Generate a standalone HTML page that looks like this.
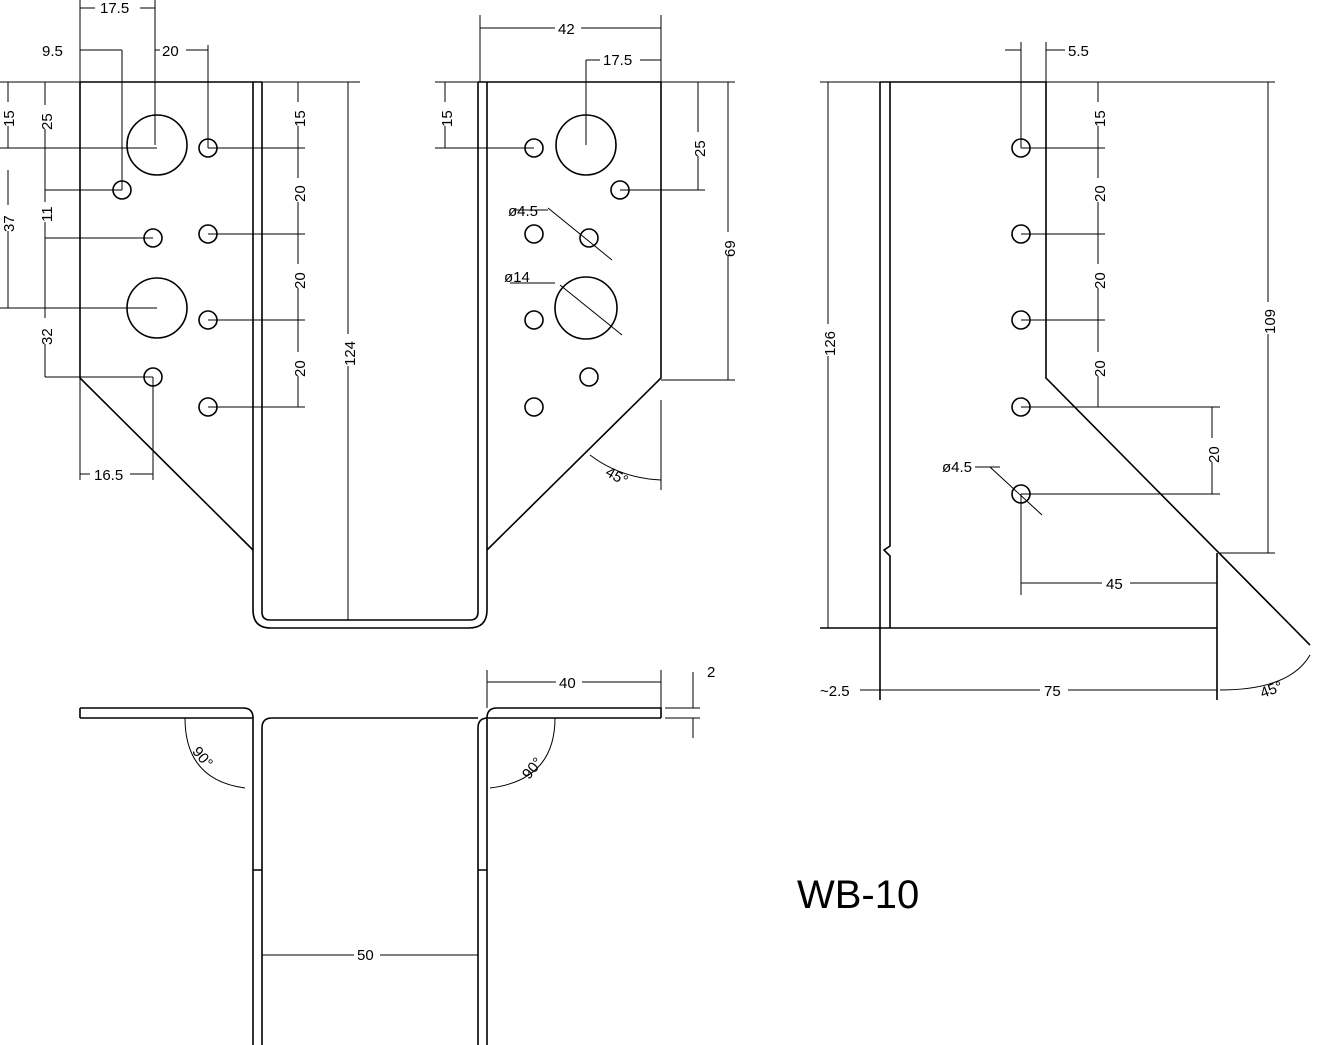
<!DOCTYPE html>
<html><head><meta charset="utf-8"><style>
html,body{margin:0;padding:0;background:#fff;}
svg{display:block}
text{font-family:"Liberation Sans",sans-serif;font-size:15px;fill:#000}
</style></head><body>
<svg width="1321" height="1045" viewBox="0 0 1321 1045" xmlns="http://www.w3.org/2000/svg">
<g fill="none" stroke="#000" stroke-width="1.6">
<!-- front view outline -->
<path d="M80,82 H262 M80,82 V378 L253,550 V610 Q253,628 271,628 H469 Q487,628 487,610 V550 L661,378 V82 H478 M487,82 V550"/>
<path d="M253,82 V550 M262,82 V612 Q262,620 270,620 H470 Q478,620 478,612 V82"/>
<!-- holes left -->
<circle cx="157" cy="145" r="30"/><circle cx="157" cy="308" r="30"/>
<circle cx="208" cy="148" r="9"/><circle cx="122" cy="190" r="9"/><circle cx="153" cy="238" r="9"/>
<circle cx="208" cy="234" r="9"/><circle cx="208" cy="320" r="9"/><circle cx="153" cy="377" r="9"/><circle cx="208" cy="407" r="9"/>
<!-- holes right -->
<circle cx="586" cy="145" r="30"/><circle cx="586" cy="308" r="31"/>
<circle cx="534" cy="148" r="9"/><circle cx="620" cy="190" r="9"/><circle cx="534" cy="234" r="9"/>
<circle cx="589" cy="238" r="9"/><circle cx="534" cy="320" r="9"/><circle cx="589" cy="377" r="9"/><circle cx="534" cy="407" r="9"/>
<!-- side view -->
<path d="M880,82 V700 M890,82 V546 L884,550 L890,556 V628 M880,82 H1046 V378 L1310,645 M820,628 H1217 M1217,553 V700"/>
<circle cx="1021" cy="148" r="9"/><circle cx="1021" cy="234" r="9"/><circle cx="1021" cy="320" r="9"/><circle cx="1021" cy="407" r="9"/><circle cx="1021" cy="494" r="9"/>
<!-- bottom view -->
<path d="M80,708 H243 Q253,708 253,718 V1045 M80,718 H253 M262,1045 V728 Q262,718 272,718 H478 M478,1045 V728 Q478,718 488,718 H661 M487,1045 V718 Q487,708 497,708 H661 V718 M80,708 V718"/>
<path d="M253,870 H262 M478,870 H487"/>
</g>
<g fill="none" stroke="#000" stroke-width="1">
<!-- left front dims -->
<path d="M80,0 V82 M155,0 V145 M80,8 H155 M80,50 H122 M122,50 V190 M155,50 H208 M208,45 V148"/>
<path d="M0,82 H80 M0,148 H157 M8,82 V148 M8,170 V308 M0,308 H157 M45,82 V190 M45,190 H122 M45,238 H153 M45,238 V377 M45,377 H153 M45,190 V238"/>
<path d="M80,378 V480 M153,377 V480 M80,474 H153"/>
<path d="M208,148 H305 M208,234 H305 M208,320 H305 M208,407 H305 M298,82 V407 M262,82 H360 M348,82 V620"/>
<!-- right front dims -->
<path d="M480,15 V82 M661,15 V82 M480,28 H661 M586,60 H661 M586,60 V145"/>
<path d="M435,82 H478 M435,148 H534 M445,82 V148 M661,82 H735 M620,190 H705 M698,82 V190 M661,380 H735 M728,82 V380"/>
<path d="M548,208 L612,260 M560,285 L622,335 M515,210 H548 M510,283 H555"/>
<path d="M661,400 V490 M590,455 Q620,478 661,480"/>
<!-- side dims -->
<path d="M1021,42 V148 M1046,42 V82 M1005,50 H1021 M1046,50 H1065"/>
<path d="M1021,148 H1105 M1021,234 H1105 M1021,320 H1105 M1021,407 H1220 M1098,82 V407 M1021,494 H1220 M1212,407 V494"/>
<path d="M1046,82 H1275 M1220,553 H1275 M1268,82 V553 M820,82 H880 M828,82 V628"/>
<path d="M1021,494 V595 M1021,583 H1217 M990,467 L1042,515 M975,467 H1000"/>
<path d="M880,690 H890 M860,690 H880 M890,690 H1217 M1220,690 Q1290,690 1310,655"/>
<!-- bottom dims -->
<path d="M487,670 V708 M661,670 V708 M487,682 H661 M665,708 H700 M665,718 H700 M693,672 V708 M693,718 V738"/>
<path d="M185,718 Q185,780 245,788 M555,718 Q555,780 490,788 M262,955 H478"/>
</g>
<g>
<rect x="95" y="0" width="45" height="14" fill="#fff"/><text x="100" y="13">17.5</text>
<text x="42" y="56">9.5</text>
<rect x="160" y="43" width="26" height="14" fill="#fff"/><text x="162" y="56">20</text>
<rect x="90" y="466" width="40" height="16" fill="#fff"/><text x="94" y="480">16.5</text>
<rect x="555" y="20" width="26" height="16" fill="#fff"/><text x="558" y="34">42</text>
<rect x="600" y="52" width="40" height="16" fill="#fff"/><text x="603" y="65">17.5</text>
<text x="508" y="216">ø4.5</text><text x="504" y="282">ø14</text>
<text x="605" y="483" transform="rotate(30 620 478)">45°</text>
<text x="1068" y="56">5.5</text>
<text x="942" y="472">ø4.5</text>
<rect x="1102" y="576" width="28" height="16" fill="#fff"/><text x="1106" y="589">45</text>
<text x="820" y="696">~2.5</text>
<rect x="1040" y="682" width="28" height="16" fill="#fff"/><text x="1044" y="696">75</text>
<text x="1260" y="695" transform="rotate(-20 1270 690)">45°</text>
<rect x="556" y="674" width="26" height="16" fill="#fff"/><text x="559" y="688">40</text>
<text x="707" y="677">2</text>
<text x="190" y="765" transform="rotate(50 205 760)">90°</text>
<text x="520" y="775" transform="rotate(-50 530 768)">90°</text>
<rect x="354" y="946" width="26" height="16" fill="#fff"/><text x="357" y="960">50</text>
<text x="797" y="908" style="font-size:40px">WB-10</text>
<!-- rotated labels -->
<g>
<rect x="1" y="102" width="14" height="24" fill="#fff"/><text transform="translate(14,127) rotate(-90)">15</text>
<rect x="1" y="205" width="14" height="26" fill="#fff"/><text transform="translate(14,232) rotate(-90)">37</text>
<rect x="38" y="105" width="14" height="24" fill="#fff"/><text transform="translate(52,130) rotate(-90)">25</text>
<rect x="38" y="202" width="14" height="20" fill="#fff"/><text transform="translate(52,222) rotate(-90)">11</text>
<rect x="38" y="318" width="14" height="26" fill="#fff"/><text transform="translate(52,345) rotate(-90)">32</text>
<rect x="291" y="102" width="14" height="24" fill="#fff"/><text transform="translate(305,127) rotate(-90)">15</text>
<rect x="291" y="178" width="14" height="24" fill="#fff"/><text transform="translate(305,202) rotate(-90)">20</text>
<rect x="291" y="264" width="14" height="24" fill="#fff"/><text transform="translate(305,289) rotate(-90)">20</text>
<rect x="291" y="352" width="14" height="24" fill="#fff"/><text transform="translate(305,377) rotate(-90)">20</text>
<rect x="341" y="334" width="14" height="32" fill="#fff"/><text transform="translate(355,366) rotate(-90)">124</text>
<rect x="438" y="102" width="14" height="24" fill="#fff"/><text transform="translate(452,127) rotate(-90)">15</text>
<rect x="691" y="132" width="14" height="24" fill="#fff"/><text transform="translate(705,157) rotate(-90)">25</text>
<rect x="721" y="232" width="14" height="24" fill="#fff"/><text transform="translate(735,257) rotate(-90)">69</text>
<rect x="1091" y="102" width="14" height="24" fill="#fff"/><text transform="translate(1105,127) rotate(-90)">15</text>
<rect x="1091" y="178" width="14" height="24" fill="#fff"/><text transform="translate(1105,202) rotate(-90)">20</text>
<rect x="1091" y="264" width="14" height="24" fill="#fff"/><text transform="translate(1105,289) rotate(-90)">20</text>
<rect x="1091" y="352" width="14" height="24" fill="#fff"/><text transform="translate(1105,377) rotate(-90)">20</text>
<rect x="1205" y="438" width="14" height="24" fill="#fff"/><text transform="translate(1219,463) rotate(-90)">20</text>
<rect x="1261" y="302" width="14" height="32" fill="#fff"/><text transform="translate(1275,334) rotate(-90)">109</text>
<rect x="821" y="324" width="14" height="32" fill="#fff"/><text transform="translate(835,356) rotate(-90)">126</text>
</g>
</g>
</svg>
</body></html>
